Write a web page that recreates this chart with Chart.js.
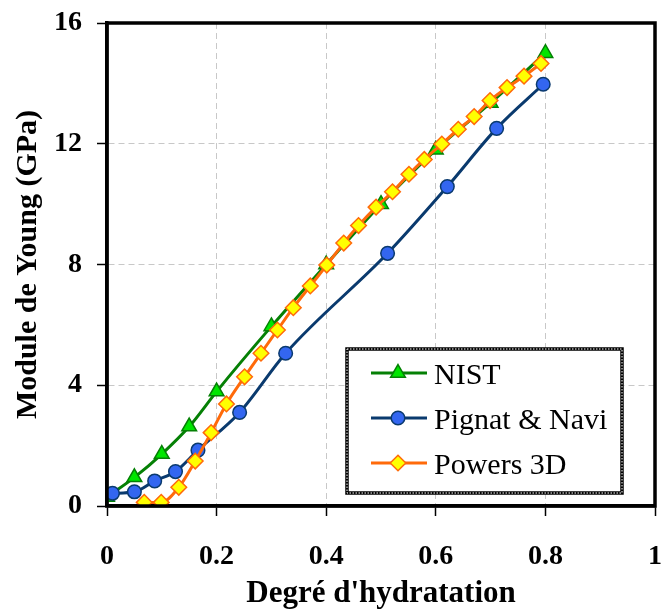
<!DOCTYPE html>
<html>
<head>
<meta charset="utf-8">
<script src="https://cdn.jsdelivr.net/npm/chart.js@4/dist/chart.umd.min.js"></script>
<style>
  html, body { margin: 0; padding: 0; background: #fff; }
  #wrap { position: relative; width: 665px; height: 609px; }
</style>
</head>
<body>
<div id="wrap"><canvas id="c" width="665" height="609"></canvas></div>
<script>
// ---- data ----
const seriesNames = ["NIST", "Pignat & Navi", "Powers 3D"];

const nistX = [0, 0.05, 0.1, 0.15, 0.2, 0.3, 0.4, 0.5, 0.6, 0.7, 0.8];
const nistY = [0.3, 0.95, 1.72, 2.63, 3.79, 5.95, 8.0, 10.0, 11.8, 13.35, 15.0];

const pignatX = [0.01, 0.05, 0.087, 0.125, 0.166, 0.242, 0.326, 0.512, 0.621, 0.711, 0.796];
const pignatY = [0.42, 0.47, 0.83, 1.14, 1.85, 3.1, 5.06, 8.37, 10.58, 12.51, 13.97];

const powersX = [0.068, 0.099, 0.131, 0.161, 0.19, 0.218, 0.251, 0.281, 0.311, 0.34, 0.371, 0.401,
                 0.432, 0.459, 0.491, 0.521, 0.551, 0.579, 0.611, 0.641, 0.67, 0.699, 0.73, 0.761, 0.792];
const powersY = [0.12, 0.12, 0.62, 1.49, 2.43, 3.38, 4.28, 5.06, 5.83, 6.57, 7.29, 7.98,
                 8.71, 9.29, 9.9, 10.41, 10.99, 11.48, 11.99, 12.48, 12.9, 13.43, 13.86, 14.24, 14.66];

const xTicks = [0, 0.2, 0.4, 0.6, 0.8, 1];
const xTickLabels = ["0", "0.2", "0.4", "0.6", "0.8", "1"];
const yTicks = [0, 4, 8, 12, 16];
const yTickLabels = ["0", "4", "8", "12", "16"];

const xTitle = "Degré d'hydratation";
const yTitle = "Module de Young (GPa)";

// ---- helpers ----
const pts = (xs, ys) => xs.map((x, i) => ({ x: x, y: ys[i] }));
const SERIF = "'Liberation Serif', 'Times New Roman', serif";

const styles = [
  { line: "#058005", fill: "#00e600", border: "#058005", shape: "triangle", r: 8.5 },
  { line: "#0a3a6e", fill: "#3366f0", border: "#0a3a6e", shape: "circle", r: 6.8 },
  { line: "#ff6a0a", fill: "#ffff00", border: "#ff6a0a", shape: "rectRot", r: 7.8 }
];

const datasets = [
  { label: seriesNames[0], data: pts(nistX, nistY), order: 2 },
  { label: seriesNames[1], data: pts(pignatX, pignatY), order: 1 },
  { label: seriesNames[2], data: pts(powersX, powersY), order: 0 }
].map((d, i) => Object.assign(d, {
  borderColor: styles[i].line,
  borderWidth: 3,
  backgroundColor: styles[i].fill,
  pointBackgroundColor: styles[i].fill,
  pointBorderColor: styles[i].border,
  pointBorderWidth: 1.5,
  pointStyle: styles[i].shape,
  pointRadius: styles[i].r,
  pointHoverRadius: styles[i].r,
  cubicInterpolationMode: "monotone",
  fill: false
}));

// frame (top/right) + in-plot legend
const framePlugin = {
  id: "frame",
  afterDatasetsDraw(chart) {
    const { ctx, chartArea: a } = chart;
    ctx.save();
    ctx.strokeStyle = "#000";
    ctx.lineWidth = 3.5;
    ctx.strokeRect(a.left, a.top, a.right - a.left, a.bottom - a.top);

    // legend box
    const bx = 347, by = 349, bw = 275, bh = 144;
    ctx.fillStyle = "#fff";
    ctx.fillRect(bx, by, bw, bh);
    ctx.lineWidth = 3.5;
    ctx.strokeStyle = "#000";
    ctx.strokeRect(bx, by, bw, bh);
    ctx.lineWidth = 1;
    ctx.strokeStyle = "#fff";
    ctx.setLineDash([1.5, 1.5]);
    ctx.strokeRect(bx, by, bw, bh);
    ctx.setLineDash([]);

    const rows = [373, 418, 463];
    chart.data.datasets.forEach((ds, i) => {
      const y = rows[i];
      ctx.strokeStyle = ds.borderColor;
      ctx.lineWidth = 3;
      ctx.beginPath();
      ctx.moveTo(371, y);
      ctx.lineTo(427, y);
      ctx.stroke();
      ctx.fillStyle = ds.pointBackgroundColor;
      ctx.strokeStyle = ds.pointBorderColor;
      ctx.lineWidth = 1.5;
      Chart.helpers.drawPoint(ctx, { pointStyle: ds.pointStyle, radius: ds.pointRadius, borderWidth: 1.5 }, 398, y);
      ctx.fillStyle = "#000";
      ctx.font = "30px " + SERIF;
      ctx.textBaseline = "alphabetic";
      ctx.textAlign = "left";
      ctx.fillText(ds.label, 434, y + 10.5);
    });
    ctx.restore();
  }
};

new Chart(document.getElementById("c"), {
  type: "line",
  data: { datasets: datasets },
  plugins: [framePlugin],
  options: {
    responsive: false,
    animation: false,
    devicePixelRatio: 1,
    layout: { padding: { top: 23, right: 3, left: 0, bottom: 0 } },
    plugins: { legend: { display: false }, tooltip: { enabled: false } },
    scales: {
      x: {
        type: "linear",
        min: 0, max: 1,
        afterBuildTicks: (s) => { s.ticks = xTicks.map(v => ({ value: v })); },
        afterFit: (s) => { s.height = 103; s.paddingLeft = 0; s.paddingRight = 0; },
        ticks: {
          callback: (v) => xTickLabels[xTicks.indexOf(v)],
          font: { family: SERIF, size: 28, weight: "bold" },
          color: "#000",
          padding: 24,
          maxRotation: 0
        },
        grid: {
          color: "#c8c8c8",
          lineWidth: 1,
          tickLength: 10,
          tickColor: "#000",
          tickWidth: 1.5,
          tickBorderDash: []
        },
        border: { display: true, color: "#000", width: 3.5, dash: [6, 4] },
        title: {
          display: true,
          text: xTitle,
          font: { family: SERIF, size: 31, weight: "bold" },
          color: "#000",
          padding: { top: 0, bottom: -4 }
        }
      },
      y: {
        type: "linear",
        min: 0, max: 16,
        afterBuildTicks: (s) => { s.ticks = yTicks.map(v => ({ value: v })); },
        afterFit: (s) => { s.width = 107; s.paddingTop = 0; s.paddingBottom = 0; },
        ticks: {
          callback: (v) => yTickLabels[yTicks.indexOf(v)],
          font: { family: SERIF, size: 28, weight: "bold" },
          color: "#000",
          padding: 15
        },
        grid: {
          color: "#c8c8c8",
          lineWidth: 1,
          tickLength: 10,
          tickColor: "#000",
          tickWidth: 1.5,
          tickBorderDash: []
        },
        border: { display: true, color: "#000", width: 3.5, dash: [6, 4] },
        title: {
          display: true,
          text: yTitle,
          font: { family: SERIF, size: 30, weight: "bold" },
          color: "#000",
          padding: { top: 10, bottom: 0 }
        }
      }
    }
  }
});
</script>
</body>
</html>
